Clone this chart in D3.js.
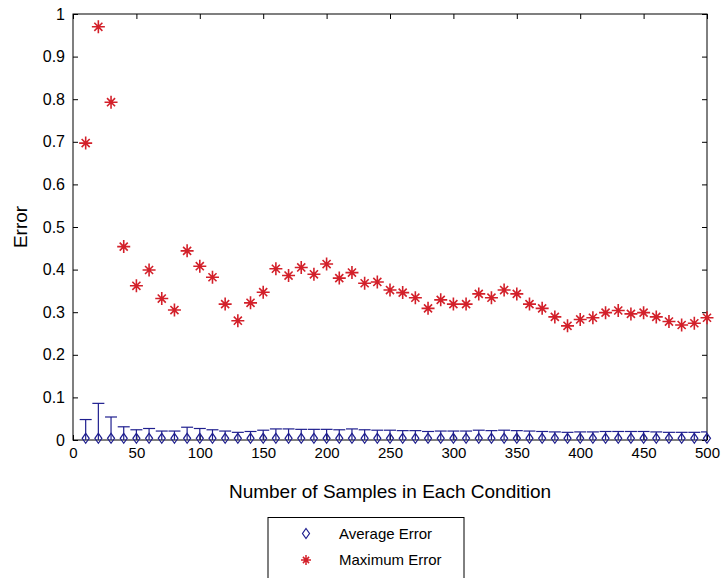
<!DOCTYPE html>
<html>
<head>
<meta charset="utf-8">
<script src="https://cdn.jsdelivr.net/npm/d3@7"></script>
<style>
  html, body { margin: 0; padding: 0; background: #fff; }
  svg { display: block; font-family: "Liberation Sans", Arial, sans-serif; }
</style>
</head>
<body>
<svg id="chart" width="721" height="578"></svg>
<script>
// Sample sizes per condition
const samples = [10,20,30,40,50,60,70,80,90,100,110,120,130,140,150,160,170,180,190,200,
  210,220,230,240,250,260,270,280,290,300,310,320,330,340,350,360,370,380,390,400,
  410,420,430,440,450,460,470,480,490,500];

// Maximum error at each sample size
const maxError = [0.697,0.970,0.793,0.454,0.362,0.399,0.332,0.305,0.444,0.408,
  0.382,0.319,0.280,0.322,0.347,0.402,0.386,0.405,0.389,0.413,
  0.380,0.393,0.368,0.371,0.352,0.346,0.334,0.309,0.329,0.319,
  0.319,0.343,0.334,0.352,0.343,0.319,0.309,0.289,0.268,0.283,
  0.287,0.299,0.304,0.296,0.299,0.289,0.278,0.270,0.274,0.287];

// Average error at each sample size
const avgError = [0.004,0.004,0.004,0.004,0.004,0.004,0.004,0.004,0.004,0.004,
  0.004,0.004,0.004,0.004,0.004,0.004,0.004,0.004,0.004,0.004,
  0.004,0.004,0.004,0.004,0.004,0.004,0.004,0.004,0.004,0.004,
  0.004,0.004,0.004,0.004,0.004,0.004,0.004,0.004,0.004,0.004,
  0.004,0.004,0.004,0.004,0.004,0.004,0.004,0.004,0.004,0.004];

// Spread of the average error (error bar half-length)
const avgSpread = [0.044,0.082,0.050,0.027,0.020,0.023,0.017,0.017,0.026,0.023,
  0.020,0.017,0.014,0.016,0.019,0.022,0.022,0.021,0.021,0.021,
  0.020,0.022,0.020,0.019,0.019,0.018,0.018,0.016,0.017,0.017,
  0.017,0.019,0.018,0.019,0.018,0.017,0.016,0.015,0.014,0.015,
  0.015,0.016,0.016,0.016,0.016,0.015,0.014,0.014,0.014,0.015];

const xTicks = [0,50,100,150,200,250,300,350,400,450,500];
const yTicks = [0,0.1,0.2,0.3,0.4,0.5,0.6,0.7,0.8,0.9,1];
const seriesNames = ["Average Error", "Maximum Error"];

const blue = "#1f1f8f";
const red = "#d3202a";

const svg = d3.select("#chart");
const plot = { left: 73, right: 707, top: 14, bottom: 440 };

const x = d3.scaleLinear().domain([0, 500]).range([plot.left, plot.right]);
const y = d3.scaleLinear().domain([0, 1]).range([plot.bottom, plot.top]);

const tickFmt = d => d3.format("")(+d.toFixed(1));

// Axes with inward ticks on all four sides
const axisStyle = size => g => {
  g.select(".domain").remove();
  g.selectAll(".tick line").attr("stroke", "#000").attr("stroke-width", 1);
  g.selectAll(".tick text").attr("fill", "#000").attr("font-size", size)
    .attr("font-family", "Liberation Sans, Arial, sans-serif");
};

svg.append("g").attr("transform", `translate(0,${plot.bottom})`)
  .call(d3.axisBottom(x).tickValues(xTicks).tickSize(-5).tickPadding(7).tickFormat(d3.format("d")))
  .call(axisStyle(15));
svg.append("g").attr("transform", `translate(0,${plot.top})`)
  .call(d3.axisTop(x).tickValues(xTicks).tickSize(-5).tickFormat(""))
  .call(axisStyle(15));
svg.append("g").attr("transform", `translate(${plot.left},0)`)
  .call(d3.axisLeft(y).tickValues(yTicks).tickSize(-5).tickPadding(8).tickFormat(tickFmt))
  .call(axisStyle(16));
svg.append("g").attr("transform", `translate(${plot.right},0)`)
  .call(d3.axisRight(y).tickValues(yTicks).tickSize(-5).tickFormat(""))
  .call(axisStyle(16));

svg.append("rect")
  .attr("x", plot.left).attr("y", plot.top)
  .attr("width", plot.right - plot.left).attr("height", plot.bottom - plot.top)
  .attr("fill", "none").attr("stroke", "#000").attr("stroke-width", 1);

// Clip for the error bars
svg.append("clipPath").attr("id", "plotClip").append("rect")
  .attr("x", plot.left).attr("y", plot.top)
  .attr("width", plot.right - plot.left).attr("height", plot.bottom - plot.top);

const data = samples.map((s, i) => ({ s, max: maxError[i], avg: avgError[i], spread: avgSpread[i] }));

// Error bars of the average error
const bars = svg.append("g").attr("clip-path", "url(#plotClip)")
  .attr("stroke", blue).attr("stroke-width", 1.2).attr("fill", "none");
const capHalf = 6;
data.forEach(d => {
  const cx = x(d.s);
  const yTop = y(d.avg + d.spread), yBot = y(d.avg - d.spread);
  bars.append("line").attr("x1", cx).attr("x2", cx).attr("y1", yTop).attr("y2", yBot);
  bars.append("line").attr("x1", cx - capHalf).attr("x2", cx + capHalf).attr("y1", yTop).attr("y2", yTop);
  bars.append("line").attr("x1", cx - capHalf).attr("x2", cx + capHalf).attr("y1", yBot).attr("y2", yBot);
});

// Diamond marker path
const diamond = (cx, cy, w, h) => `M${cx},${cy - h}L${cx + w},${cy}L${cx},${cy + h}L${cx - w},${cy}Z`;

svg.append("g").selectAll("path").data(data).join("path")
  .attr("d", d => diamond(x(d.s), y(d.avg), 3.5, 5))
  .attr("fill", "none").attr("stroke", blue).attr("stroke-width", 1.2);

// Star marker (plus and cross) for the maximum error
const star = (cx, cy, r) => {
  const q = r * 0.62;
  return `M${cx - r},${cy}H${cx + r}M${cx},${cy - r}V${cy + r}` +
         `M${cx - q},${cy - q}L${cx + q},${cy + q}M${cx - q},${cy + q}L${cx + q},${cy - q}`;
};
svg.append("g").selectAll("path").data(data).join("path")
  .attr("d", d => star(x(d.s), y(d.max), 6.5))
  .attr("fill", "none").attr("stroke", red).attr("stroke-width", 1.6);

// Axis titles
svg.append("text")
  .attr("x", (plot.left + plot.right) / 2).attr("y", 498)
  .attr("text-anchor", "middle").attr("font-size", 19).attr("fill", "#000")
  .text("Number of Samples in Each Condition");
svg.append("text")
  .attr("transform", `translate(27,${(plot.top + plot.bottom) / 2}) rotate(-90)`)
  .attr("text-anchor", "middle").attr("font-size", 19).attr("fill", "#000")
  .text("Error");

// Legend
const legend = svg.append("g");
legend.append("rect")
  .attr("x", 268).attr("y", 517.5).attr("width", 196).attr("height", 70)
  .attr("fill", "#fff").attr("stroke", "#000").attr("stroke-width", 1);
const legendRows = [533.5, 560];
legend.append("path").attr("d", diamond(306, legendRows[0], 3.5, 5))
  .attr("fill", "none").attr("stroke", blue).attr("stroke-width", 1.2);
legend.append("path").attr("d", star(306, legendRows[1], 5))
  .attr("fill", "none").attr("stroke", red).attr("stroke-width", 1.5);
legend.selectAll("text.lbl").data(seriesNames).join("text")
  .attr("class", "lbl")
  .attr("x", 339).attr("y", (d, i) => legendRows[i] + 5)
  .attr("font-size", 15).attr("fill", "#000")
  .text(d => d);
</script>
</body>
</html>
